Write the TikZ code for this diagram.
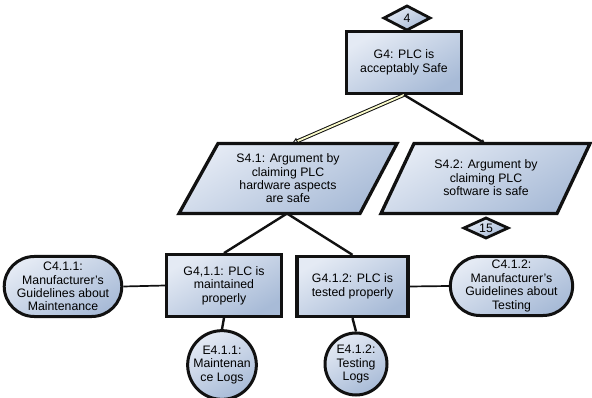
\documentclass[tikz,border=0pt]{standalone}
\usepackage{fontspec}
\setmainfont{Liberation Sans}
\usetikzlibrary{arrows.meta,shapes.misc,shapes.geometric}
\definecolor{gsnlight}{HTML}{E4EAF4}
\definecolor{gsndark}{HTML}{A8BBD7}
\definecolor{gsnline}{HTML}{111111}
\begin{document}
\begin{tikzpicture}[x=1pt,y=-1pt,
  gsnfill/.style={top color=gsnlight,bottom color=gsndark,shading angle=30},
  txt/.style={font=\fontsize{12.3}{13.4}\selectfont,align=center,text=black},
  goalbox/.style={draw=gsnline,line width=3.3pt,gsnfill,txt,inner sep=0pt,minimum width=114.5pt,minimum height=61.5pt},
  ctxbox/.style={rounded rectangle,draw=gsnline,line width=3pt,gsnfill,txt,inner sep=0pt,minimum width=107pt,minimum height=60pt},
  evbox/.style={circle,draw=gsnline,line width=3pt,gsnfill,txt,inner sep=0pt,minimum size=62pt},
  shapeline/.style={draw=gsnline,line width=3.3pt,line join=miter,gsnfill},
  solidlink/.style={draw=gsnline,line width=2.4pt},
  ctxlink/.style={draw=gsnline,line width=1.7pt}
]
\useasboundingbox (0,0) rectangle (592,398);

% away goal diamond 4
\path[shapeline,line width=2.8pt] (384,18) -- (407,6) -- (430,18) -- (407,30) -- cycle;
\node[txt] (d4) at (407,18) {4};

% G4
\node[goalbox] (g4) at (404,62.5) {G4: PLC is\\acceptably Safe};

% S4.1
\path[shapeline] (218,143.5) -- (397,143.5) -- (360,213.5) -- (179,213.5) -- cycle;
\node[txt] (s41) at (288,178.5) {S4.1: Argument by\\claiming PLC\\hardware aspects\\are safe};
\coordinate (s41t) at (292,143.5);
\coordinate (s41b) at (287,213.5);

% S4.2
\path[shapeline] (414,143.5) -- (590,143.5) -- (557,213.5) -- (381,213.5) -- cycle;
\node[txt] (s42) at (486,178) {S4.2: Argument by\\claiming PLC\\software is safe};
\coordinate (s42t) at (485,143.5);

% diamond 15
\path[shapeline,line width=2.8pt] (464,228) -- (486,218) -- (508,228) -- (486,238) -- cycle;
\node[txt] (d15) at (486,228) {15};

% lower goals
\node[goalbox] (g411) at (224,285.5) {G4,1.1: PLC is\\maintained\\properly};
\node[goalbox,minimum width=111pt,minimum height=60pt] (g412) at (352.5,286.5) {G4.1.2: PLC is\\tested properly};

% contexts
\node[ctxbox] (c411) at (63,286.5) {C4.1.1:\\Manufacturer’s\\Guidelines about\\Maintenance};
\node[ctxbox,minimum width=113pt,minimum height=59pt] (c412) at (511.5,286) {C4.1.2:\\Manufacturer’s\\Guidelines about\\Testing};

% evidence
\node[evbox] (e411) at (222,365) {E4.1.1:\\Maintenan\\ce Logs};
\node[evbox] (e412) at (356,364) {E4.1.2:\\Testing\\Logs};

% connectors
\draw[draw=gsnline,line width=1pt,double=gsnlight!50!yellow!40,double distance=1.8pt,
  -{Triangle[open,length=6pt,width=7pt,line width=1pt]}] (g4.south) -- (s41t);
\draw[solidlink,-{Triangle[length=4pt,width=5pt]}] (g4.south) -- (s42t);
\draw[solidlink] (s41b) -- (g411.north);
\draw[solidlink] (s41b) -- (g412.north);
\draw[ctxlink] (c411.east) -- (g411.west);
\draw[ctxlink] (g412.east) -- (c412.west);
\draw[solidlink] (g411.south) -- (e411.north);
\draw[solidlink] (g412.south) -- (e412.north);
\end{tikzpicture}
\end{document}
